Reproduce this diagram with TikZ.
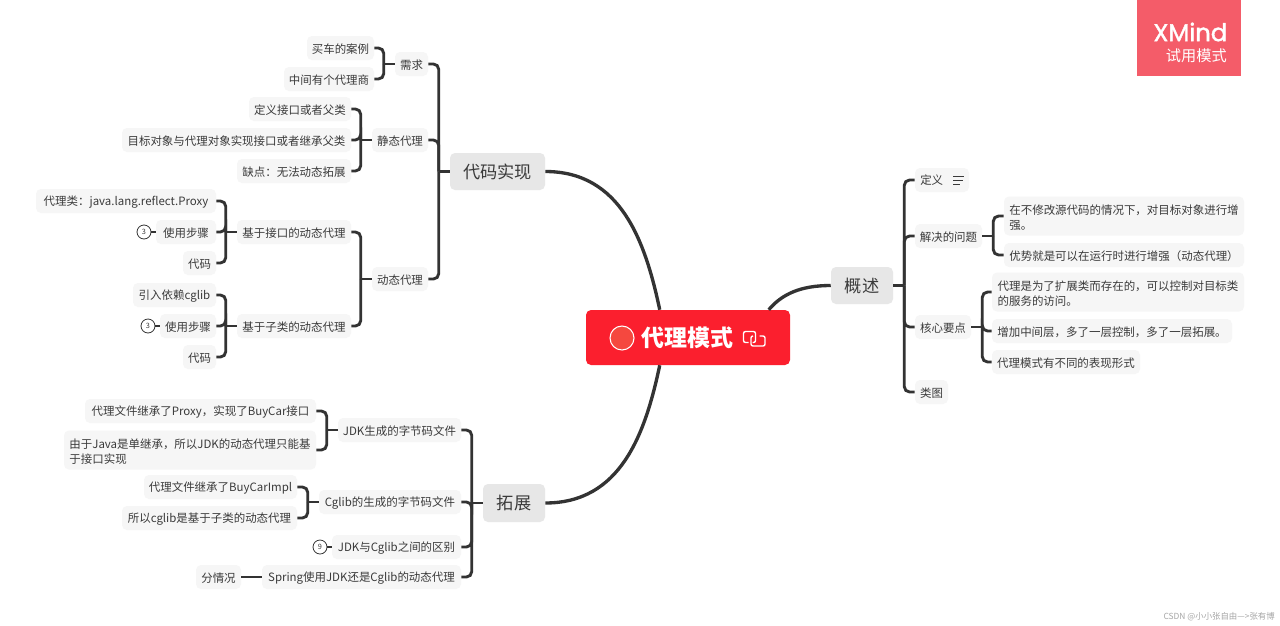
\documentclass[tikz,border=0pt]{standalone}
\usepackage{fontspec}
\setmainfont{Noto Sans CJK SC}
\newfontfamily\xmfont[FakeBold=1.6]{Poppins}
\usetikzlibrary{calc}
\definecolor{ink}{HTML}{3A3A3A}
\definecolor{wire}{HTML}{333333}
\definecolor{leaffill}{HTML}{F6F6F6}
\definecolor{topicfill}{HTML}{E7E7E7}
\definecolor{rootred}{HTML}{FB1F2E}
\definecolor{rootdot}{HTML}{F5483F}
\definecolor{badgered}{HTML}{F45C69}
\tikzset{
  leafbox/.style={fill=leaffill,rounded corners=3.75pt,inner sep=0pt,minimum height=18pt,text=ink,align=left,
    font=\fontsize{8.6}{11.25}\selectfont},
  tall/.style={minimum height=29.25pt},
  topicbox/.style={fill=topicfill,rounded corners=3.75pt,inner sep=0pt,minimum height=28pt,text=ink,
    font=\fontsize{12.9}{15}\selectfont},
  conn/.style={draw=wire,line width=2.15pt,rounded corners=4pt},
  trunk/.style={draw=wire,line width=2.5pt},
  badge/.style={circle,draw=wire,line width=0.6pt,fill=white,inner sep=0pt,minimum size=10.5pt,text=ink,
    font=\fontsize{5.5}{6}\selectfont},
}
\newcommand\up{\rule{0pt}{9.1pt}}
\newcommand\lf[6][]{\node[leafbox,#1,minimum width={(#4-#3)*0.75pt}] (#2) at ({(#3+#4)/2},#5) {\up #6};}
\newcommand\tp[5]{\node[topicbox,minimum width={(#3-#2)*0.75pt},minimum height={(#5)*0.75pt}] (#1) at ({(#2+#3)/2},#4)}
\newcommand\brL[2]{%
  \coordinate (#1-s) at ($(#1.west)+(-11,0)$);
  \draw[conn] (#1.west) -- (#1-s);
  \foreach \c in {#2} {\draw[conn] (\c.east) -| (#1-s);}}
\newcommand\brR[2]{%
  \coordinate (#1-s) at ($(#1.east)+(11,0)$);
  \draw[conn] (#1.east) -- (#1-s);
  \foreach \c in {#2} {\draw[conn] (\c.west) -| (#1-s);}}
\begin{document}
\begin{tikzpicture}[x=0.75pt,y=-0.75pt]
\useasboundingbox (0,0) rectangle (1280,625);
\fill[white] (0,0) rectangle (1280,625);

% XMind badge
\fill[badgered] (1137,0) rectangle (1241,76);
\node[text=white,anchor=east,inner sep=0pt,font=\xmfont\fontsize{18.2}{20}\selectfont] (xm) at (1227.5,32) {XMind};
\node[text=white,anchor=east,inner sep=0pt,font=\fontsize{11.4}{13}\selectfont] (xmt) at (1227,56) {试用模式};

% root
\node[fill=rootred,rounded corners=3.75pt,inner sep=0pt,minimum width=153pt,minimum height=41.25pt] (root) at (688,337.5) {};
\node[circle,fill=rootdot,draw=white,line width=0.8pt,minimum size=18pt,inner sep=0pt] (rootdotn) at (622,338) {};
\node[text=white,anchor=west,inner sep=0pt,font=\bfseries\fontsize{17.2}{20}\selectfont] (roott) at (641,338) {代理模式};
\draw[white,line width=1.05pt,rounded corners=1.5pt] (748.5,342.5) -- (743.5,342.5) -- (743.5,331.5) -- (755.5,331.5) -- (755.5,342.5) -- (752.5,342.5);
\draw[white,line width=1.05pt,rounded corners=1.5pt] (759.5,336) -- (765,336) -- (765,346) -- (751,346) -- (751,336) -- (753,336);

% main topics
\tp{impl}{450}{545}{171.5}{37} {代码实现};
\tp{ext}{483}{545}{503}{38} {拓展};
\tp{over}{831}{893}{285.5}{37} {概述};

\coordinate (rootTL) at ($(root.north west)+(74,0)$);
\coordinate (rootBL) at ($(root.south west)+(74,0)$);
\coordinate (rootTR) at ($(root.north west)+(183,0)$);
\draw[trunk] (impl.east) .. controls +(75,0) and (645,240) .. (rootTL);
\draw[trunk] (ext.east) .. controls +(75,0) and (645,435) .. (rootBL);
\draw[trunk] (over.west) .. controls +(-30,0) and (782,294) .. (rootTR);

% 需求
\lf{a1}{307}{374}{48}{买车的案例}
\lf{a2}{284}{374}{79}{中间有个代理商}
\lf{a}{395}{428}{64}{需求}
% 静态代理
\lf{b1}{249}{351}{109}{定义接口或者父类}
\lf{b2}{122}{351}{140}{目标对象与代理对象实现接口或者继承父类}
\lf{b3}{237}{351}{171}{缺点：无法动态拓展}
\lf{b}{372}{428}{140}{静态代理}
% 动态代理
\lf{c}{372}{428}{279}{动态代理}
\lf{c1}{237}{351}{232}{基于接口的动态代理}
\lf{c2}{237}{351}{326}{基于子类的动态代理}
\lf{d1}{36}{216}{201}{代理类：java.lang.reflect.Proxy}
\lf{d2}{156}{216}{232}{使用步骤}
\lf{d3}{183}{216}{263}{代码}
\lf{e1}{133}{216}{295}{引入依赖cglib}
\lf{e2}{160}{216}{326}{使用步骤}
\lf{e3}{183}{216}{357}{代码}
\node[badge] (d2b) at (144,232) {3};
\node[badge] (e2b) at (148,326) {3};

% 拓展
\lf{f}{338}{461}{430}{JDK生成的字节码文件}
\lf{f1}{85}{316}{411}{代理文件继承了Proxy，实现了BuyCar接口}
\lf[tall]{f2}{64}{316}{450}{由于Java是单继承，所以JDK的动态代理只能基\\于接口实现}
\lf{g}{319}{461}{502}{Cglib的生成的字节码文件}
\lf{g1}{144}{297}{487}{代理文件继承了BuyCarImpl}
\lf{g2}{122}{297}{518}{所以cglib是基于子类的动态代理}
\lf{h}{332}{461}{547}{JDK与Cglib之间的区别}
\node[badge] (hb) at (320,547) {9};
\lf{i}{262}{461}{577}{Spring使用JDK还是Cglib的动态代理}
\lf{i1}{196}{241}{577}{分情况}

% 概述
\node[leafbox,minimum width=40.5pt] (p) at (942,180) {};
\node[text=ink,anchor=west,inner sep=0pt,font=\fontsize{8.6}{11.25}\selectfont] (pt) at (920,180) {定义};
\draw[ink,line width=0.6pt] (953,176) -- (963.5,176) (953,180) -- (963,180) (953,184) -- (959.5,184);
\lf{q}{915}{982}{236}{解决的问题}
\lf[tall]{q1}{1004}{1244}{216}{在不修改源代码的情况下，对目标对象进行增\\强。}
\lf{q2}{1004}{1244}{255}{优势就是可以在运行时进行增强（动态代理）}
\lf{r}{915}{971}{327}{核心要点}
\lf[tall]{r1}{992}{1244}{292}{代理是为了扩展类而存在的，可以控制对目标类\\的服务的访问。}
\lf{r2}{992}{1232}{331}{增加中间层，多了一层控制，多了一层拓展。}
\lf{r3}{992}{1140}{362}{代理模式有不同的表现形式}
\lf{s}{915}{948}{392}{类图}

% connectors
\brL{a}{a1,a2}
\brL{b}{b1,b2,b3}
\brL{c}{c1,c2}
\brL{c1}{d1,d2,d3}
\brL{c2}{e1,e2,e3}
\brL{impl}{a,b,c}
\brL{f}{f1,f2}
\brL{g}{g1,g2}
\brL{ext}{f,g,h,i}
\draw[conn] (i.west) -- (i1.east);
\draw[conn] (d2.west) -- (d2b.east);
\draw[conn] (e2.west) -- (e2b.east);
\draw[conn] (h.west) -- (hb.east);
\brR{over}{p,q,r,s}
\brR{q}{q1,q2}
\brR{r}{r1,r2,r3}

% watermark
\node[text=black!35,anchor=east,inner sep=0pt,font=\fontsize{6.3}{7}\selectfont] (wm) at (1275,617) {CSDN @小小张自由—>张有博};
\end{tikzpicture}
\end{document}
